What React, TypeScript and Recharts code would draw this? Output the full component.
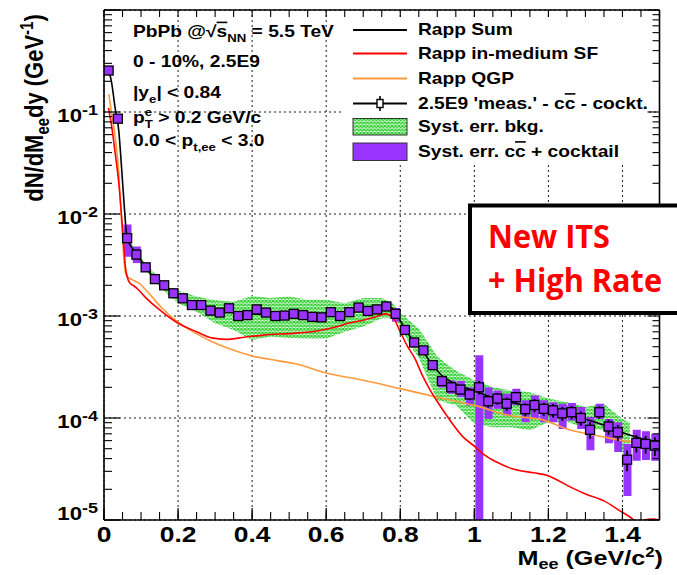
import React from 'react';
import { ComposedChart, XAxis, YAxis, CartesianGrid, Line, Area, Bar, Scatter, ErrorBar } from 'recharts';

const FONT = '"Liberation Sans", Arial, Helvetica, sans-serif';
const PURPLE = '#9933ff';
const RED = '#ff0000';
const ORANGE = '#ff9a3c';
const GREEN = '#22cc22';

// ---- measured points (bin centres, GeV/c^2) ----
const massBins = [
  0.0125, 0.0375, 0.0625, 0.0875, 0.1125, 0.1375, 0.1625, 0.1875, 0.2125, 0.2375,
  0.2625, 0.2875, 0.3125, 0.3375, 0.3625, 0.3875, 0.4125, 0.4375, 0.4625, 0.4875,
  0.5125, 0.5375, 0.5625, 0.5875, 0.6125, 0.6375, 0.6625, 0.6875, 0.7125, 0.7375,
  0.7625, 0.7875, 0.8125, 0.8375, 0.8625, 0.8875, 0.9125, 0.9375, 0.9625, 0.9875,
  1.0125, 1.0375, 1.0625, 1.0875, 1.1125, 1.1375, 1.1625, 1.1875, 1.2125, 1.2375,
  1.2625, 1.2875, 1.3125, 1.3375, 1.3625, 1.3875, 1.4125, 1.4375, 1.4625, 1.4875,
];
const measured = [
  0.255, 0.086, 0.0058, 0.0040, 0.0030, 0.0023, 0.0020, 0.00167, 0.00149, 0.00128,
  0.00128, 0.00113, 0.00108, 0.00119, 0.00100, 0.00102, 0.00116, 0.00108, 0.00100, 0.00101,
  0.00105, 0.00102, 0.00098, 0.00097, 0.00109, 0.00100, 0.00109, 0.00121, 0.00112, 0.00116,
  0.00124, 0.00105, 0.00073, 0.00055, 0.00046, 0.00033, 0.00023, 0.00020, 0.00019, 0.00017,
  0.00020, 0.000146, 0.000155, 0.000138, 0.000160, 0.000122, 0.000134, 0.000123, 0.000119, 0.000111,
  0.000114, 0.000100, 0.0000766, 0.000114, 0.0000825, 0.0000725, 0.000039, 0.000057, 0.0000557, 0.0000536,
];
const systLow = [
  0.235, 0.080, 0.0038, 0.0033, 0.0027, 0.0021, 0.00186, 0.00156, 0.00139, 0.00120,
  0.00120, 0.00106, 0.00101, 0.00111, 0.00094, 0.00095, 0.00108, 0.00101, 0.00094, 0.00095,
  0.00098, 0.00095, 0.00092, 0.00091, 0.00102, 0.00094, 0.00102, 0.00113, 0.00105, 0.00108,
  0.00116, 0.00088, 0.00066, 0.00050, 0.00042, 0.000294, 0.000199, 0.000173, 0.000160, 0.000133,
  0.00001, 0.0000979, 0.000123, 0.000106, 0.000133, 0.0000906, 0.0000983, 0.0000906, 0.0000906, 0.0000778,
  0.0000945, 0.0000778, 0.0000483, 0.0000980, 0.0000564, 0.0000464, 0.0000172, 0.0000381, 0.0000387, 0.0000381,
];
const systHigh = [
  0.275, 0.094, 0.0079, 0.0048, 0.0033, 0.0025, 0.00214, 0.00178, 0.00159, 0.00136,
  0.00136, 0.00120, 0.00115, 0.00127, 0.00106, 0.00109, 0.00124, 0.00115, 0.00106, 0.00107,
  0.00112, 0.00109, 0.00104, 0.00103, 0.00116, 0.00106, 0.00116, 0.00129, 0.00119, 0.00124,
  0.00132, 0.00120, 0.00080, 0.00060, 0.00050, 0.000355, 0.000256, 0.000234, 0.000231, 0.000200,
  0.000413, 0.000200, 0.000186, 0.000173, 0.000194, 0.000149, 0.000166, 0.000149, 0.000143, 0.000138,
  0.000140, 0.000128, 0.000102, 0.000138, 0.0000980, 0.0000906, 0.0000557, 0.0000766, 0.0000740, 0.0000697,
];
const statErr = [
  0.005, 0.002, 0.0002, 0.00012, 0.00008, 0.00006, 0.00005, 0.00004, 0.00004, 0.00003,
  0.00003, 0.00003, 0.00003, 0.00003, 0.00003, 0.00003, 0.00003, 0.00003, 0.00003, 0.00003,
  0.00003, 0.00003, 0.00003, 0.00003, 0.00003, 0.00003, 0.00003, 0.00003, 0.00003, 0.00003,
  0.00003, 0.00003, 0.00004, 0.00003, 0.00003, 0.000025, 0.00002, 0.00002, 0.00002, 0.00002,
  0.00003, 0.00002, 0.00002, 0.00002, 0.00002, 0.000018, 0.00002, 0.000018, 0.000018, 0.000017,
  0.000017, 0.000016, 0.000014, 0.000016, 0.000014, 0.000013, 0.000009, 0.000011, 0.000011, 0.000011,
];

// ---- background systematic band ----
const bkgX = [0.06, 0.08, 0.1, 0.125, 0.15, 0.175, 0.2, 0.25, 0.3, 0.35, 0.4, 0.45, 0.5, 0.55, 0.6, 0.65, 0.7, 0.75, 0.78, 0.8, 0.825, 0.85, 0.9, 0.95, 1.0, 1.05, 1.1, 1.15, 1.2, 1.25, 1.3, 1.35, 1.4, 1.42];
const bkgLow = [0.0058, 0.0041, 0.0032, 0.0025, 0.00195, 0.0016, 0.00134, 0.0011, 0.00085, 0.00073, 0.00058, 0.00063, 0.00061, 0.0006, 0.0006, 0.0007, 0.00079, 0.00095, 0.00095, 0.00082, 0.00052, 0.00039, 0.000149, 0.000133, 0.000088, 0.000081, 0.000081, 0.000076, 0.000091, 0.000091, 0.000081, 0.000076, 0.000046, 0.000045];
const bkgHigh = [0.0066, 0.0047, 0.0037, 0.0029, 0.0023, 0.0019, 0.00178, 0.00155, 0.00143, 0.00138, 0.00157, 0.0015, 0.00155, 0.00144, 0.00144, 0.00133, 0.0015, 0.0015, 0.00133, 0.00107, 0.0009, 0.00076, 0.0004, 0.00029, 0.000234, 0.0002, 0.000186, 0.000179, 0.000155, 0.000143, 0.000128, 0.000138, 0.000098, 0.00009];

// ---- model curves [mass, dN/dMdy] ----
const rappSum: [number, number][] = [
  [0.012, 0.26], [0.02, 0.2], [0.03, 0.11], [0.04, 0.065], [0.047, 0.03], [0.054, 0.013], [0.06, 0.0068],
  [0.0625, 0.0058], [0.075, 0.0047], [0.0875, 0.004], [0.1, 0.0035], [0.1125, 0.003], [0.1375, 0.0023],
  [0.1625, 0.00197], [0.1875, 0.0017], [0.2125, 0.00151], [0.25, 0.00132], [0.3, 0.00117], [0.35, 0.00108],
  [0.4, 0.00105], [0.45, 0.00103], [0.5, 0.00102], [0.55, 0.00101], [0.6, 0.00103], [0.65, 0.00107],
  [0.7, 0.00114], [0.74, 0.0012], [0.765, 0.00125], [0.78, 0.00118], [0.79, 0.00105], [0.8, 0.0009],
  [0.8125, 0.00075], [0.8375, 0.00056], [0.8625, 0.00044], [0.8875, 0.00033], [0.9125, 0.00026],
  [0.95, 0.000215], [1.0, 0.000185], [1.05, 0.000158], [1.1, 0.000142], [1.15, 0.00013], [1.2, 0.00012],
  [1.25, 0.000108], [1.3, 0.000097], [1.35, 0.000085], [1.4, 0.000072], [1.45, 0.000063], [1.5, 0.000058],
];
const rappSF: [number, number][] = [
  [0.012, 0.11], [0.02, 0.075], [0.03, 0.04], [0.04, 0.02], [0.047, 0.01], [0.053, 0.005], [0.058, 0.003],
  [0.063, 0.0024], [0.07, 0.0021], [0.08, 0.00198], [0.09, 0.00185], [0.11, 0.00155], [0.13, 0.00132],
  [0.157, 0.0011], [0.18, 0.00095], [0.2, 0.00085], [0.25, 0.0007], [0.29, 0.00061], [0.33, 0.00059],
  [0.38, 0.00062], [0.43, 0.00065], [0.52, 0.00068], [0.57, 0.00071], [0.62, 0.00077], [0.66, 0.00085],
  [0.7, 0.00091], [0.73, 0.00097], [0.76, 0.00105], [0.775, 0.001], [0.785, 0.00091], [0.8, 0.0007],
  [0.82, 0.0005], [0.84, 0.00038], [0.86, 0.00026], [0.88, 0.00019], [0.9, 0.000145], [0.93, 0.0001],
  [0.97, 0.000065], [1.0, 0.000053], [1.025, 0.000044], [1.06, 0.000037], [1.1, 0.000032], [1.16, 0.000029],
  [1.2, 0.0000272], [1.23, 0.000024], [1.26, 0.000021], [1.3, 0.000018], [1.35, 0.0000154], [1.39, 0.0000125],
  [1.43, 0.00001], [1.445, 0.0000088], [1.46, 0.00001], [1.48, 0.0000102], [1.5, 0.00001],
];
const rappQGP: [number, number][] = [
  [0.013, 0.15], [0.02, 0.1], [0.031, 0.054], [0.04, 0.025], [0.045, 0.012], [0.05, 0.006], [0.055, 0.0032],
  [0.06, 0.0025], [0.077, 0.00226], [0.094, 0.0021], [0.121, 0.00167], [0.157, 0.00119], [0.2, 0.00087],
  [0.247, 0.00068], [0.292, 0.00056], [0.337, 0.00048], [0.4, 0.000406], [0.472, 0.000363], [0.517, 0.00034],
  [0.6, 0.000276], [0.7, 0.000234], [0.8, 0.000194], [0.9, 0.00016], [1.0, 0.000133], [1.1, 0.000105],
  [1.18, 0.000097], [1.25, 0.000078], [1.35, 0.000065], [1.4, 0.00006], [1.45, 0.000057], [1.5, 0.000055],
];

// ---- axes ----
const xMajorTicks = [0, 0.2, 0.4, 0.6, 0.8, 1, 1.2, 1.4];
const xTickLabels = ['0', '0.2', '0.4', '0.6', '0.8', '1', '1.2', '1.4'];
const xMinorTicks = [0, 0.05, 0.1, 0.15, 0.2, 0.25, 0.3, 0.35, 0.4, 0.45, 0.5, 0.55, 0.6, 0.65, 0.7, 0.75, 0.8, 0.85, 0.9, 0.95, 1, 1.05, 1.1, 1.15, 1.2, 1.25, 1.3, 1.35, 1.4, 1.45, 1.5];
const yDecades = [1e-5, 1e-4, 1e-3, 1e-2, 1e-1, 1];
const yExponents = ['-5', '-4', '-3', '-2', '-1', ''];
const yMinorMultipliers = [2, 3, 4, 5, 6, 7, 8, 9];

const yMinorTicks = yDecades.slice(0, 5).flatMap((d) => yMinorMultipliers.map((m) => m * d));
const yAllTicks = [...yDecades, ...yMinorTicks].sort((a, b) => a - b);

const measRows = massBins.map((x, i) => ({ x, y: measured[i], box: [systLow[i], systHigh[i]], stat: statErr[i] }));
const bkgRows = bkgX.map((x, i) => ({ x, band: [bkgLow[i], bkgHigh[i]] }));
const toRows = (pts: [number, number][]) => pts.map(([x, y]) => ({ x, y }));

const isDecade = (v: number) => Math.abs(Math.log10(v) - Math.round(Math.log10(v))) < 1e-6;

const XLabelTick = (p: any) => {
  const { x, y, index } = p;
  return (
    <g>
      <line x1={x} x2={x} y1={y} y2={y - 12} stroke="#000" strokeWidth={1.2} />
      <text transform={`translate(${x},${y + 22}) scale(1.2,1)`} textAnchor="middle" fontFamily={FONT} fontWeight={700} fontSize={22} fill="#000">
        {xTickLabels[index]}
      </text>
    </g>
  );
};
const XMinorTick = (p: any) => <line x1={p.x} x2={p.x} y1={p.y - 1} y2={p.y - 9} stroke="#000" strokeWidth={1.1} />;
const XTopTick = (p: any) => <line x1={p.x} x2={p.x} y1={p.y} y2={p.y + 7} stroke="#000" strokeWidth={1.1} />;

const YLabelTick = (p: any) => {
  const { x, y, index } = p;
  const exp = yExponents[index];
  return (
    <g>
      <line x1={x} x2={x + 16} y1={y} y2={y} stroke="#000" strokeWidth={1.2} />
      {exp !== '' && (
        <text transform={`translate(${x - 6},${y + (index === 0 ? 0 : 10)}) scale(1.2,1)`} textAnchor="end" fontFamily={FONT} fontWeight={700} fontSize={18.5} fill="#000">
          10<tspan fontSize={15} dy={-7}>{exp}</tspan>
        </text>
      )}
    </g>
  );
};
const YMinorTick = (p: any) => <line x1={p.x + 1} x2={p.x + 9} y1={p.y} y2={p.y} stroke="#000" strokeWidth={1.1} />;
const YRightTick = (p: any) => {
  const len = isDecade(p.payload.value) ? 12 : 7;
  return <line x1={p.x} x2={p.x - len} y1={p.y} y2={p.y} stroke="#000" strokeWidth={1.1} />;
};

const MeasMarker = (p: any) => {
  if (p.cx == null || p.cy == null) return <g />;
  return <rect x={p.cx - 4.5} y={p.cy - 4.5} width={9} height={9} fill={PURPLE} stroke="#000" strokeWidth={1.3} />;
};

const T = ({ x, y, size, anchor = 'start', fill = '#000', sx = 1.2, family = FONT, children }: any) => (
  <text transform={`translate(${x},${y}) scale(${sx},1)`} fontFamily={family} fontWeight={700} fontSize={size} textAnchor={anchor} fill={fill}>
    {children}
  </text>
);

const Overlay = () => (
  <svg width={677} height={575} style={{ position: 'absolute', left: 0, top: 0, pointerEvents: 'none' }}>
    {/* axis titles */}
    <text transform="translate(43,108) scale(1.2,1) rotate(-90)" textAnchor="middle" fontFamily={FONT} fontWeight={700} fontSize={22} fill="#000">
      dN/dM<tspan fontSize={15} dy={5}>ee</tspan><tspan dy={-5}>dy (GeV</tspan><tspan fontSize={15} dy={-8}>-1</tspan><tspan dy={8}>)</tspan>
    </text>
    <T x={663} y={565} size={21} anchor="end">
      M<tspan fontSize={15} dy={4}>ee</tspan><tspan dy={-4}> (GeV/c</tspan><tspan fontSize={14} dy={-8}>2</tspan><tspan dy={8}>)</tspan>
    </T>

    {/* top-left annotation */}
    <T x={133} y={37} size={16}>
      PbPb @√<tspan style={{ textDecoration: 'overline' }}>s</tspan><tspan fontSize={11} dy={5}>NN</tspan><tspan dy={-5}> = 5.5 TeV</tspan>
    </T>
    <T x={133} y={67} size={16}>0 - 10%, 2.5E9</T>
    <T x={133} y={98} size={16}>
      |y<tspan fontSize={11} dy={5}>e</tspan><tspan dy={-5}>| &lt; 0.84</tspan>
    </T>
    <T x={133} y={123} size={16}>
      p<tspan fontSize={11} dy={-7}>e</tspan><tspan fontSize={11} dx={-6} dy={12}>T</tspan><tspan dy={-5}> &gt; 0.2 GeV/c</tspan>
    </T>
    <T x={133} y={146} size={16}>
      0.0 &lt; p<tspan fontSize={11} dy={5}>t,ee</tspan><tspan dy={-5}> &lt; 3.0</tspan>
    </T>

    {/* legend */}
    <rect x={341} y={17} width={305} height={147} fill="#fff" />
    <line x1={353} x2={407} y1={30} y2={30} stroke="#000" strokeWidth={2} />
    <T x={418} y={34.5} size={16}>Rapp Sum</T>
    <line x1={353} x2={407} y1={53.5} y2={53.5} stroke={RED} strokeWidth={2} />
    <T x={418} y={58.5} size={16}>Rapp in-medium SF</T>
    <line x1={353} x2={407} y1={78.5} y2={78.5} stroke={ORANGE} strokeWidth={2} />
    <T x={418} y={83.5} size={16}>Rapp QGP</T>
    <line x1={353} x2={407} y1={103.5} y2={103.5} stroke="#000" strokeWidth={2} />
    <line x1={380} x2={380} y1={96} y2={111} stroke="#000" strokeWidth={1.6} />
    <rect x={377} y={99.5} width={6} height={8} fill="#fff" stroke="#000" strokeWidth={1.4} />
    <T x={418} y={108.5} size={16}>
      2.5E9 'meas.' - c<tspan style={{ textDecoration: 'overline' }}>c</tspan> - cockt.
    </T>
    <rect x={353} y={118.5} width={54} height={16.5} fill="url(#bkgHatch)" stroke="#333" strokeWidth={1} />
    <T x={418} y={131.5} size={16}>Syst. err. bkg.</T>
    <rect x={353} y={143} width={54} height={17.5} fill={PURPLE} stroke="#333" strokeWidth={1} />
    <T x={418} y={156.5} size={16}>
      Syst. err. c<tspan style={{ textDecoration: 'overline' }}>c</tspan> + cocktail
    </T>

    {/* highlight box */}
    <rect x={470} y={205.5} width={230} height={107.5} fill="#fff" stroke="#000" strokeWidth={4} />
    <text x={488} y={248} fontFamily='"Open Sans", "Noto Sans", sans-serif' fontWeight={700} fontSize={32} fill={RED} textLength={122} lengthAdjust="spacingAndGlyphs">
      New ITS
    </text>
    <text x={488} y={292} fontFamily='"Open Sans", "Noto Sans", sans-serif' fontWeight={700} fontSize={32} fill={RED} textLength={174} lengthAdjust="spacingAndGlyphs">
      + High Rate
    </text>
  </svg>
);

export default function App() {
  return (
    <div style={{ position: 'absolute', left: 0, top: 0, width: 677, height: 575, background: '#fff' }}>
      <svg width={0} height={0} style={{ position: 'absolute' }}>
        <defs>
          <pattern id="bkgHatch" width={3.5} height={3.5} patternUnits="userSpaceOnUse">
            <rect width={3.5} height={3.5} fill="#fff" />
            <path d="M0,0 L3.5,3.5 M3.5,0 L0,3.5" stroke={GREEN} strokeWidth={1.2} />
          </pattern>
        </defs>
      </svg>
      <ComposedChart width={677} height={575} data={measRows} margin={{ top: 9, right: 16.5, bottom: 53, left: 102 }}>
        <CartesianGrid stroke="#000" strokeDasharray="2 3" strokeWidth={0.9} />
        <XAxis type="number" dataKey="x" domain={[0, 1.5]} ticks={xMajorTicks} interval={0} height={1} tickSize={0} tickMargin={0} tick={<XLabelTick />} axisLine={{ stroke: '#000', strokeWidth: 1.6 }} tickLine={false} allowDataOverflow />
        <XAxis xAxisId="bminor" type="number" dataKey="x" domain={[0, 1.5]} ticks={xMinorTicks} interval={0} height={1} tickSize={0} tickMargin={0} tick={<XMinorTick />} axisLine={false} tickLine={false} allowDataOverflow />
        <XAxis xAxisId="top" orientation="top" type="number" dataKey="x" domain={[0, 1.5]} ticks={xMinorTicks} interval={0} height={1} tickSize={0} tickMargin={0} tick={<XTopTick />} axisLine={{ stroke: '#000', strokeWidth: 1.6 }} tickLine={false} allowDataOverflow />
        <YAxis type="number" scale="log" domain={[1e-5, 1]} ticks={yDecades} interval={0} width={1} tickSize={0} tickMargin={0} tick={<YLabelTick />} axisLine={{ stroke: '#000', strokeWidth: 1.6 }} tickLine={false} allowDataOverflow />
        <YAxis yAxisId="lminor" type="number" scale="log" domain={[1e-5, 1]} ticks={yMinorTicks} interval={0} width={1} tickSize={0} tickMargin={0} tick={<YMinorTick />} axisLine={false} tickLine={false} allowDataOverflow />
        <YAxis yAxisId="right" orientation="right" type="number" scale="log" domain={[1e-5, 1]} ticks={yAllTicks} interval={0} width={1} tickSize={0} tickMargin={0} tick={<YRightTick />} axisLine={{ stroke: '#000', strokeWidth: 1.6 }} tickLine={false} allowDataOverflow />

        <Area data={bkgRows} dataKey="band" type="linear" stroke="none" fill="url(#bkgHatch)" fillOpacity={1} dot={false} activeDot={false} isAnimationActive={false} />
        <Bar xAxisId="bminor" dataKey="box" barSize={8} fill={PURPLE} isAnimationActive={false} />
        <Line data={toRows(rappQGP)} dataKey="y" type="monotone" stroke={ORANGE} strokeWidth={1.6} dot={false} activeDot={false} isAnimationActive={false} />
        <Line data={toRows(rappSF)} dataKey="y" type="monotone" stroke={RED} strokeWidth={1.6} dot={false} activeDot={false} isAnimationActive={false} />
        <Line data={toRows(rappSum)} dataKey="y" type="monotone" stroke="#000" strokeWidth={1.6} dot={false} activeDot={false} isAnimationActive={false} />
        <Scatter data={measRows} dataKey="y" shape={<MeasMarker />} isAnimationActive={false}>
          <ErrorBar dataKey="stat" direction="y" width={0} stroke="#000" strokeWidth={1.8} isAnimationActive={false} />
        </Scatter>
      </ComposedChart>
      <Overlay />
    </div>
  );
}
